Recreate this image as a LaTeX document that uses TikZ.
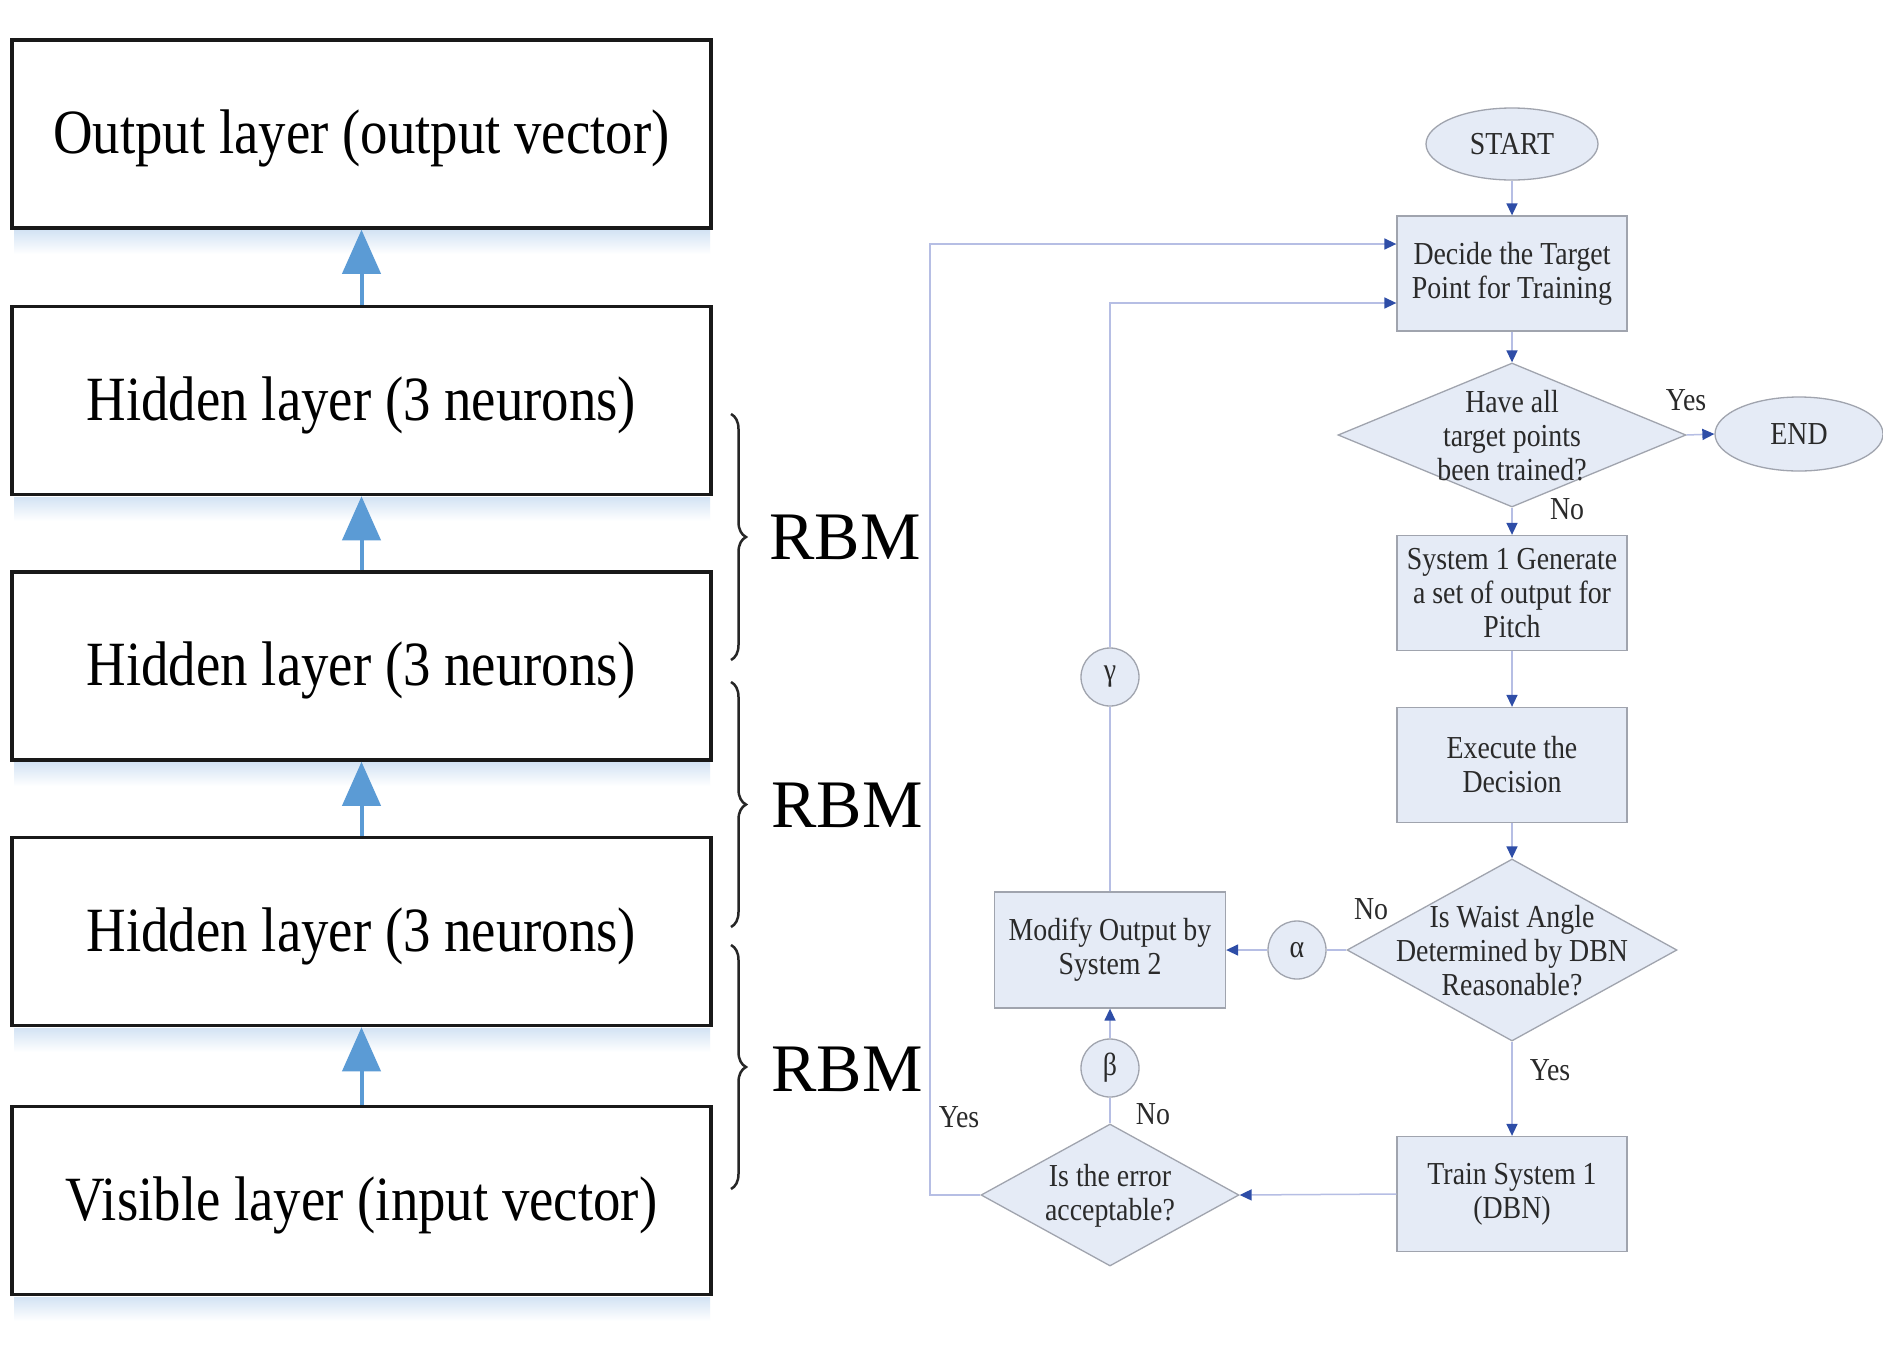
\documentclass[tikz,border=0pt]{standalone}
\usepackage{fontspec}
\setmainfont{Liberation Serif}[FakeStretch=0.87]
\newfontfamily\rbmfont{Liberation Serif}
\usetikzlibrary{shapes.geometric,arrows.meta,decorations.pathreplacing,calc}
\definecolor{ffill}{HTML}{E5EBF6}
\definecolor{fborder}{HTML}{A0A4AE}
\definecolor{flink}{HTML}{B6BEE4}
\definecolor{ftip}{HTML}{2E4DA7}
\definecolor{ftext}{HTML}{2A2A2A}
\definecolor{shadowc}{HTML}{D3E3F4}
\definecolor{barrowc}{HTML}{5B9BD5}
\tikzset{
  layer/.style={rectangle, draw=black!90, line width=3.5pt, fill=white,
    minimum width=699pt, minimum height=188pt, inner sep=0pt,
    text height=45pt, text depth=6pt,
    font=\fontsize{63}{70}\selectfont},
  barrow/.style={draw=barrowc, line width=4pt, -{Triangle[length=44pt,width=38pt,color=barrowc]}},
  bracestyle/.style={draw=black!85, line width=2.5pt, decorate,
    decoration={brace,amplitude=15pt}},
  rbm/.style={font=\rbmfont\fontsize{68}{70}\selectfont, inner sep=0pt},
  fbox/.style={rectangle, draw=fborder, fill=ffill, line width=1.3pt,
    minimum width=230pt, minimum height=115pt, inner sep=2pt, align=center,
    font=\fontsize{32}{34}\selectfont, text=ftext},
  dia/.style={diamond, draw=fborder, fill=ffill, line width=1.3pt, inner sep=0pt},
  ell/.style={ellipse, draw=fborder, fill=ffill, line width=1.3pt, inner sep=0pt,
    font=\fontsize{32}{34}\selectfont, text=ftext},
  circ/.style={circle, draw=fborder, fill=ffill, line width=1.3pt, inner sep=0pt,
    minimum size=58pt, font=\fontsize{32}{34}\selectfont, text=ftext},
  ftxt/.style={align=center, inner sep=0pt, font=\fontsize{32}{34}\selectfont, text=ftext},
  lbl/.style={inner sep=0pt, font=\fontsize{32}{34}\selectfont, text=ftext},
  conn/.style={draw=flink, line width=1.5pt},
  arr/.style={conn, -{Triangle[length=12pt,width=11pt,color=ftip]}}
}
\begin{document}
\begin{tikzpicture}[x=1pt,y=-1pt]
\useasboundingbox[fill=white] (0,0) rectangle (1883,1350);

% ---------- left stack ----------
\foreach \yy in {228,495,760,1026,1295}{
  \shade[top color=shadowc, bottom color=white] (14,\yy+2) rectangle (710,\yy+26);
}
\node[layer] (L1) at (361.5,134) {Output layer (output vector)};
\node[layer] (L2) at (361.5,400.5) {Hidden layer (3 neurons)};
\node[layer] (L3) at (361.5,666) {Hidden layer (3 neurons)};
\node[layer] (L4) at (361.5,931.5) {Hidden layer (3 neurons)};
\node[layer] (L5) at (361.5,1200.5) {Visible layer (input vector)};

\draw[barrow] (L2.north) -- (L1.south);
\draw[barrow] (L3.north) -- (L2.south);
\draw[barrow] (L4.north) -- (L3.south);
\draw[barrow] (L5.north) -- (L4.south);

\coordinate (b1t) at (731,414);  \coordinate (b1b) at (731,660);
\coordinate (b2t) at (731,682);  \coordinate (b2b) at (731,927);
\coordinate (b3t) at (731,945);  \coordinate (b3b) at (731,1189);
\draw[bracestyle] (b1t) -- (b1b);
\draw[bracestyle] (b2t) -- (b2b);
\draw[bracestyle] (b3t) -- (b3b);
\node[rbm] (R1) at (845,537) {RBM};
\node[rbm] (R2) at (847,805) {RBM};
\node[rbm] (R3) at (847,1069) {RBM};

% ---------- flowchart ----------
\node[ell, minimum width=172pt, minimum height=72pt] (start) at (1512,144) {START};
\node[fbox] (dec) at (1512,273.5) {Decide the Target\\Point for Training};
\node[dia, minimum width=348pt, minimum height=144pt] (d1) at (1512,435) {};
\node[ftxt] (d1t) at (1512,436) {Have all\\target points\\been trained?};
\node[ell, minimum width=168pt, minimum height=74pt] (end) at (1799,434) {END};
\node[fbox] (sys1) at (1512,593) {System 1 Generate\\a set of output for\\Pitch};
\node[fbox] (exe) at (1512,765) {Execute the\\Decision};
\node[dia, minimum width=330pt, minimum height=182pt] (d2) at (1512,950) {};
\node[ftxt] (d2t) at (1512,951) {Is Waist Angle\\Determined by DBN\\Reasonable?};
\node[circ] (alpha) at (1297,950) {α};
\node[fbox, minimum width=231pt, minimum height=116pt] (mod) at (1110,950) {Modify Output by\\System 2};
\node[circ] (beta) at (1110,1068) {β};
\node[dia, minimum width=258pt, minimum height=142pt] (d3) at (1110,1195) {};
\node[ftxt] (d3t) at (1110,1196) {Is the error\\acceptable?};
\node[fbox] (train) at (1512,1194) {Train System 1\\(DBN)};
\node[circ] (gamma) at (1110,677) {γ};

\coordinate (yc) at (930,244);
\coordinate (gc) at (1110,303);

\draw[arr] (start) -- (dec);
\draw[arr] (dec) -- (d1);
\draw[arr] (d1.east) -- (end.west);
\draw[arr] (d1.south) -- (sys1.north);
\draw[arr] (sys1) -- (exe);
\draw[arr] (exe) -- (d2.north);
\draw[conn] (d2.west) -- (alpha.east);
\draw[arr] (alpha.west) -- (mod.east);
\draw[arr] (d2.south) -- (train.north);
\draw[arr] (train.west) -- (d3.east);
\draw[conn] (d3.north) -- (beta.south);
\draw[arr] (beta.north) -- (mod.south);
\draw[arr] (d3.west) -| (yc) -- (dec.west |- yc);
\draw[conn] (mod.north) -- (gamma.south);
\draw[arr] (gamma.north) -- (gc) -- (dec.west |- gc);

\node[lbl] (y1) at (1686,400) {Yes};
\node[lbl] (n1) at (1567,509) {No};
\node[lbl] (n2) at (1371,909) {No};
\node[lbl] (y2) at (1550,1070) {Yes};
\node[lbl] (n3) at (1153,1114) {No};
\node[lbl] (y3) at (959,1117) {Yes};
\end{tikzpicture}
\end{document}
